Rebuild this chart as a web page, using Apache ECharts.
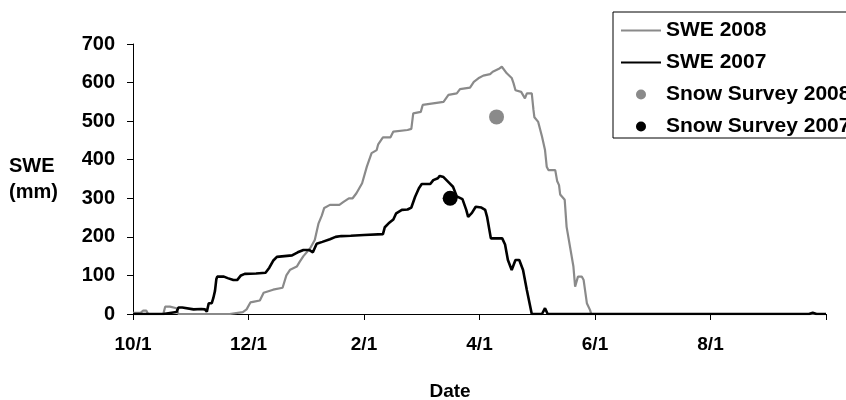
<!DOCTYPE html>
<html>
<head>
<meta charset="utf-8">
<script src="https://cdn.jsdelivr.net/npm/echarts@6/dist/echarts.min.js"></script>
<style>
html,body{margin:0;padding:0;background:#fff;}
#chart{width:846px;height:400px;}
</style>
</head>
<body>
<div id="chart"></div>
<script>
// Days since Oct 1 (x) and SWE in mm (y)
const xTickLabels = ['10/1', '12/1', '2/1', '4/1', '6/1', '8/1', ''];
const yTicks = [0, 100, 200, 300, 400, 500, 600, 700];

const swe2008Days = [0, 4, 5.4, 7, 8, 16, 17, 19.5, 20, 23, 24, 51, 52, 58, 60, 62, 64, 67, 69, 70, 74, 79, 81, 83, 86.5, 88, 90, 93.5, 96, 98, 99.7, 101, 104, 109, 111, 114, 116, 118, 121, 123.5, 126, 128.7, 129.5, 131, 132, 136, 137.5, 138, 145, 147, 148, 152, 153, 154, 164, 165, 166.6, 171, 172.7, 178, 180, 182.4, 185, 188.6, 190, 193, 194.8, 195.6, 197.4, 200, 201, 202, 205, 207, 208, 210.6, 211.5, 212, 214, 215, 216, 217.6, 218.5, 219.4, 223, 224, 225, 225.6, 228, 229, 232.6, 233.5, 235, 237, 238, 239.7, 241.4, 242, 366];
const swe2008Vals = [3, 3, 9, 9, 0, 0, 19, 19, 14, 15, 0, 0, 4, 5, 12, 30, 32, 35, 55, 60, 63, 68, 100, 115, 123, 135, 150, 170, 192, 235, 255, 275, 283, 283, 290, 300, 300, 313, 339, 382, 417, 425, 440, 451, 458, 458, 473, 477, 477, 480, 520, 524, 542, 546, 550, 555, 568, 572, 583, 587, 602, 611, 618, 622, 628, 635, 641, 640, 624, 612, 598, 580, 576, 559, 572, 572, 529, 510, 498, 494, 460, 425, 382, 373, 373, 345, 334, 310, 296, 226, 123, 71, 97, 97, 88, 28, 10, 0, 0];

const swe2007Days = [0, 16, 17, 23, 24, 26, 27, 32, 33, 36, 37, 38, 39, 40, 41.6, 42.4, 43.3, 44, 44.5, 48, 50, 53, 55, 57, 59, 65, 70, 72, 74, 76, 80, 84, 87, 90, 93, 95, 97, 100, 104, 107, 110, 115, 122, 132, 133, 135, 136, 137.5, 139, 142, 145, 147, 149, 151, 152.5, 157, 158.6, 161, 162, 164, 167, 169, 171, 174, 176, 177, 179, 181, 184, 186, 187, 189, 191, 195, 196.5, 198, 200, 202, 204, 206, 208, 210.6, 216, 217.6, 219, 357, 359, 361, 366];
const swe2007Vals = [0, 0, 5, 5, 17, 17, 12, 12, 13, 13, 17, 12, 6, 28, 28, 41, 60, 90, 97, 97, 93, 88, 88, 100, 104, 105, 107, 120, 138, 148, 150, 152, 160, 166, 166, 160, 182, 187, 194, 200, 202, 203, 205, 207, 225, 235, 240, 245, 261, 270, 271, 276, 304, 326, 337, 337, 347, 352, 358, 355, 340, 330, 305, 298, 270, 252, 262, 278, 276, 270, 252, 196, 196, 196, 180, 140, 114, 140, 140, 114, 62, 0, 0, 15, 0, 0, 3, 0, 0];

const survey2008 = [[192, 511]];
const survey2007 = [[167.5, 300]];

const pair = (d, v) => d.map((x, i) => [x, v[i]]);

const FONT = 'Liberation Sans, Arial, sans-serif';
const GRAY = '#8a8a8a';
const chart = echarts.init(document.getElementById('chart'), null, {renderer: 'canvas'});
chart.setOption({
  animation: false,
  backgroundColor: '#fff',
  grid: {left: 133, right: 20, top: 44, bottom: 86, containLabel: false},
  xAxis: {
    type: 'value', min: 0, max: 366, interval: 61,
    axisLine: {show: true, lineStyle: {color: '#000', width: 1}},
    axisTick: {show: true, inside: false, length: 6, lineStyle: {color: '#000'}},
    splitLine: {show: false},
    axisLabel: {
      margin: 21, color: '#000', fontFamily: FONT, fontWeight: 'bold', fontSize: 19,
      formatter: (v) => xTickLabels[Math.round(v / 61)] || ''
    }
  },
  yAxis: {
    type: 'value', min: yTicks[0], max: yTicks[yTicks.length - 1], interval: 100,
    axisLine: {show: true, lineStyle: {color: '#000', width: 1}},
    axisTick: {show: true, inside: false, length: 6, lineStyle: {color: '#000'}},
    splitLine: {show: false},
    axisLabel: {margin: 18, color: '#000', fontFamily: FONT, fontWeight: 'bold', fontSize: 20}
  },
  legend: {
    orient: 'vertical', left: 613, top: 12,
    padding: [8, 10, 1, 7],
    borderColor: '#000', borderWidth: 1, backgroundColor: '#fff',
    itemWidth: 40, itemHeight: 10, itemGap: 11,
    textStyle: {color: '#000', fontFamily: FONT, fontWeight: 'bold', fontSize: 21, lineHeight: 20},
    data: [
      {name: 'SWE 2008', itemStyle: {opacity: 0}},
      {name: 'SWE 2007', itemStyle: {opacity: 0}},
      {name: 'Snow Survey 2008'},
      {name: 'Snow Survey 2007'}
    ]
  },
  graphic: [
    {type: 'text', left: 34 - 25, top: 153, style: {text: 'SWE\n(mm)', fill: '#000', font: 'bold 20px ' + FONT, align: 'center', lineHeight: 26, x: 25}},
    {type: 'text', style: {text: 'Date', x: 450, y: 392, fill: '#000', font: 'bold 19px ' + FONT, align: 'center', verticalAlign: 'middle'}}
  ],
  series: [
    {name: 'SWE 2008', type: 'line', data: pair(swe2008Days, swe2008Vals), symbol: 'none', showSymbol: false,
      lineStyle: {color: GRAY, width: 2.2}, itemStyle: {color: GRAY}, z: 2},
    {name: 'SWE 2007', type: 'line', data: pair(swe2007Days, swe2007Vals), symbol: 'none', showSymbol: false,
      lineStyle: {color: '#000', width: 2.6}, itemStyle: {color: '#000'}, z: 3},
    {name: 'Snow Survey 2008', type: 'scatter', data: survey2008, symbol: 'circle', symbolSize: 15,
      itemStyle: {color: GRAY, opacity: 1}, z: 4},
    {name: 'Snow Survey 2007', type: 'scatter', data: survey2007, symbol: 'circle', symbolSize: 15,
      itemStyle: {color: '#000', opacity: 1}, z: 4}
  ]
});
</script>
</body>
</html>
